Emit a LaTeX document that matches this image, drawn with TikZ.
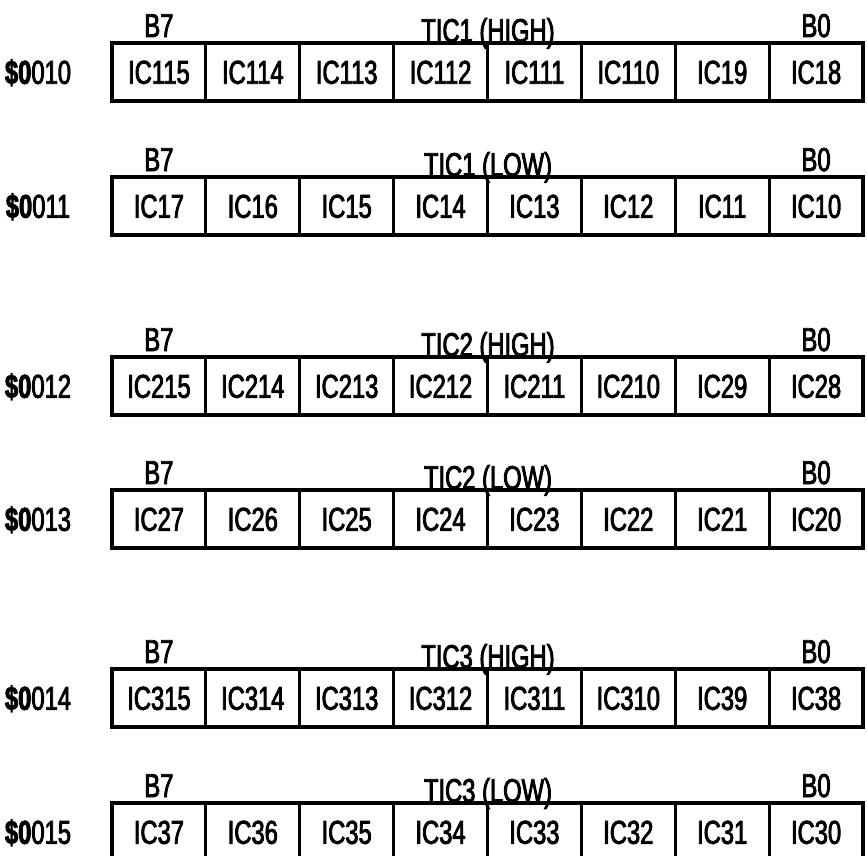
\documentclass[tikz,border=0pt]{standalone}
\usepackage{fontspec}
\setmainfont{Liberation Sans}[FakeStretch=0.72, FakeBold=2.5]
\begin{document}
\begin{tikzpicture}[x=1pt,y=-1pt,
  txt/.style={inner sep=0pt, outer sep=0pt, font=\fontsize{33}{33}\selectfont},
  cell/.style={txt, draw, line width=3.2pt, minimum width=93.875pt, minimum height=58pt,
    anchor=center, text height=23.5pt, text depth=0pt},
  frame/.style={line width=4.8pt, line join=miter},
  addr/.style={txt, anchor=center, text height=23.5pt, text depth=0pt},
  lbl/.style={txt, anchor=base},
]
\useasboundingbox (0,0) rectangle (867,856);
\clip (0,0) rectangle (867,856);
\foreach \r/\y/\ad/\ti/\pre/\hi in {
  1/72/10/{TIC1 (HIGH)}/IC1/15,
  2/206/11/{TIC1 (LOW)}/IC1/7,
  3/386/12/{TIC2 (HIGH)}/IC2/15,
  4/519/13/{TIC2 (LOW)}/IC2/7,
  5/698/14/{TIC3 (HIGH)}/IC3/15,
  6/832/15/{TIC3 (LOW)}/IC3/7}{
  \foreach \j in {1,...,8}{
    \pgfmathtruncatemacro\n{\hi-\j+1}
    \node[cell] (c\r-\j) at ({112+93.875*(\j-0.5)},\y) {\pre\n};
  }
  \draw[frame] (c\r-1.north west) rectangle (c\r-8.south east);
  \node[addr] (a\r) at (38,\y) {{\bfseries\$0}0\ad};
  \node[lbl] (t\r) at (488,{\y-30}) {\ti};
  \node[lbl] (b7\r) at ({112+93.875*0.5},{\y-35}) {B7};
  \node[lbl] (b0\r) at ({112+93.875*7.5},{\y-35}) {B0};
}
\end{tikzpicture}
\end{document}
